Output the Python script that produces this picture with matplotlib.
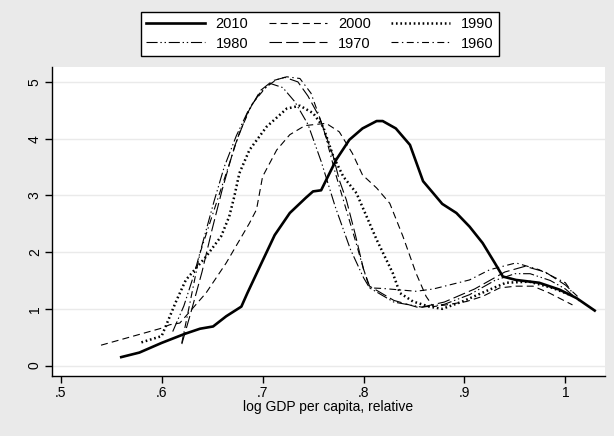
import numpy as np
import matplotlib.pyplot as plt

plt.rcParams['lines.scale_dashes'] = False
plt.rcParams['font.family'] = ['Liberation Sans', 'DejaVu Sans']

# kernel densities
x2010 = [0.560, 0.578, 0.600, 0.623, 0.638, 0.651, 0.664, 0.679, 0.685, 0.699, 0.712, 0.727,
         0.743, 0.750, 0.758, 0.763, 0.773, 0.786, 0.799, 0.813, 0.819, 0.832, 0.846, 0.859,
         0.869, 0.878, 0.892, 0.905, 0.918, 0.930, 0.938, 0.951, 0.974, 0.994, 1.011, 1.029]
y2010 = [0.15, 0.23, 0.40, 0.56, 0.65, 0.69, 0.87, 1.04, 1.28, 1.81, 2.30, 2.69,
         2.96, 3.07, 3.09, 3.27, 3.63, 3.98, 4.18, 4.31, 4.31, 4.18, 3.89, 3.25,
         3.04, 2.85, 2.69, 2.45, 2.16, 1.81, 1.57, 1.51, 1.46, 1.34, 1.19, 0.97]

x2000 = [0.540, 0.578, 0.600, 0.608, 0.618, 0.644, 0.664, 0.687, 0.694, 0.700, 0.714, 0.727,
         0.742, 0.763, 0.776, 0.789, 0.799, 0.813, 0.826, 0.839, 0.852, 0.862, 0.869, 0.882,
         0.902, 0.918, 0.935, 0.951, 0.968, 0.984, 1.007]
y2000 = [0.36, 0.55, 0.66, 0.72, 0.75, 1.28, 1.81, 2.51, 2.75, 3.33, 3.80, 4.07,
         4.23, 4.27, 4.12, 3.74, 3.36, 3.13, 2.86, 2.28, 1.63, 1.22, 1.04, 1.07,
         1.13, 1.22, 1.37, 1.40, 1.40, 1.28, 1.07]

x1990 = [0.580, 0.600, 0.615, 0.624, 0.644, 0.659, 0.667, 0.672, 0.677, 0.687, 0.704, 0.724,
         0.737, 0.750, 0.760, 0.770, 0.780, 0.793, 0.813, 0.829, 0.836, 0.849, 0.865, 0.878,
         0.898, 0.921, 0.941, 0.964, 0.987, 1.004]
y1990 = [0.41, 0.52, 1.16, 1.51, 1.92, 2.28, 2.63, 2.98, 3.39, 3.80, 4.21, 4.53,
         4.58, 4.45, 4.21, 3.69, 3.33, 3.04, 2.22, 1.63, 1.28, 1.13, 1.04, 1.00,
         1.13, 1.31, 1.46, 1.48, 1.37, 1.25]

x1980 = [0.611, 0.622, 0.632, 0.642, 0.652, 0.662, 0.674, 0.686, 0.698, 0.708, 0.720, 0.732,
         0.745, 0.758, 0.772, 0.787, 0.800, 0.806, 0.830, 0.858, 0.880, 0.905, 0.930, 0.950,
         0.965, 0.985, 1.000, 1.015]
y1980 = [0.60, 1.05, 1.60, 2.25, 2.90, 3.50, 4.05, 4.50, 4.82, 4.97, 4.90, 4.65,
         4.25, 3.60, 2.80, 2.05, 1.55, 1.37, 1.12, 1.03, 1.08, 1.25, 1.50, 1.62,
         1.62, 1.50, 1.35, 1.12]

x1970 = [0.620, 0.630, 0.640, 0.650, 0.660, 0.672, 0.685, 0.698, 0.710, 0.722, 0.735, 0.745,
         0.756, 0.763, 0.770, 0.776, 0.783, 0.792, 0.800, 0.806, 0.830, 0.855, 0.880, 0.910,
         0.940, 0.960, 0.980, 1.000, 1.012]
y1970 = [0.38, 1.00, 1.65, 2.40, 3.10, 3.85, 4.45, 4.85, 5.02, 5.08, 5.00, 4.75,
         4.39, 4.04, 3.69, 3.27, 2.92, 2.30, 1.70, 1.40, 1.15, 1.02, 1.12, 1.35,
         1.65, 1.75, 1.65, 1.42, 1.22]

x1960 = [0.620, 0.628, 0.638, 0.651, 0.664, 0.677, 0.690, 0.704, 0.714, 0.724, 0.737, 0.748,
         0.760, 0.772, 0.782, 0.792, 0.800, 0.806, 0.819, 0.852, 0.869, 0.905, 0.925, 0.951,
         0.974, 1.000, 1.007]
y1960 = [0.40, 1.10, 1.98, 2.69, 3.39, 4.10, 4.62, 4.92, 5.04, 5.09, 5.06, 4.80,
         4.20, 3.40, 2.80, 2.20, 1.70, 1.37, 1.36, 1.31, 1.35, 1.51, 1.69, 1.81,
         1.69, 1.46, 1.28]

fig = plt.figure(figsize=(6.14, 4.36), dpi=100, facecolor='#eaeaea')
ax = fig.add_axes([0.084, 0.138, 0.901, 0.708])
ax.set_facecolor('white')

l1, = ax.plot(x2010, y2010, color='black', lw=1.9, ls='-')
l2, = ax.plot(x2000, y2000, color='black', lw=0.8, ls=(0, (5, 3)))
l3, = ax.plot(x1990, y1990, color='black', lw=1.8, ls=(0, (1.2, 2)))
l4, = ax.plot(x1980, y1980, color='black', lw=0.8, ls=(0, (8, 2, 1, 2, 1, 2)))
l5, = ax.plot(x1970, y1970, color='black', lw=0.8, ls=(0, (9, 3)))
l6, = ax.plot(x1960, y1960, color='black', lw=0.8, ls=(0, (5, 2.5, 1, 2.5)))

ax.set_xlim(0.491, 1.039)
ax.set_ylim(-0.18, 5.26)
ax.set_xticks([0.5, 0.6, 0.7, 0.8, 0.9, 1.0])
ax.set_xticklabels(['.5', '.6', '.7', '.8', '.9', '1'])
ax.set_yticks([0, 1, 2, 3, 4, 5])
ax.set_yticklabels(['0', '1', '2', '3', '4', '5'], rotation=90, va='center')
ax.grid(axis='y', color='#eaeaea', lw=1)
ax.set_axisbelow(True)
for s in ['top', 'right']:
    ax.spines[s].set_visible(False)
ax.spines['left'].set_linewidth(1)
ax.spines['bottom'].set_linewidth(1)
ax.tick_params(labelsize=10, length=5, width=1, pad=2)
ax.set_xlabel('log GDP per capita, relative', fontsize=10, labelpad=0)

# legend filled column-wise, so interleave to get rows 2010/2000/1990 and 1980/1970/1960
leg = fig.legend([l1, l4, l2, l5, l3, l6], ['2010', '1980', '2000', '1970', '1990', '1960'],
                 ncol=3, loc='upper center', bbox_to_anchor=(0.521, 0.99), fontsize=10.5,
                 frameon=True, fancybox=False, edgecolor='black', framealpha=1,
                 handlelength=4.0, columnspacing=1.4, handletextpad=0.75,
                 borderpad=0.4, labelspacing=0.35)
leg.get_frame().set_linewidth(1)

fig.savefig('out.png', dpi=100, facecolor=fig.get_facecolor())
